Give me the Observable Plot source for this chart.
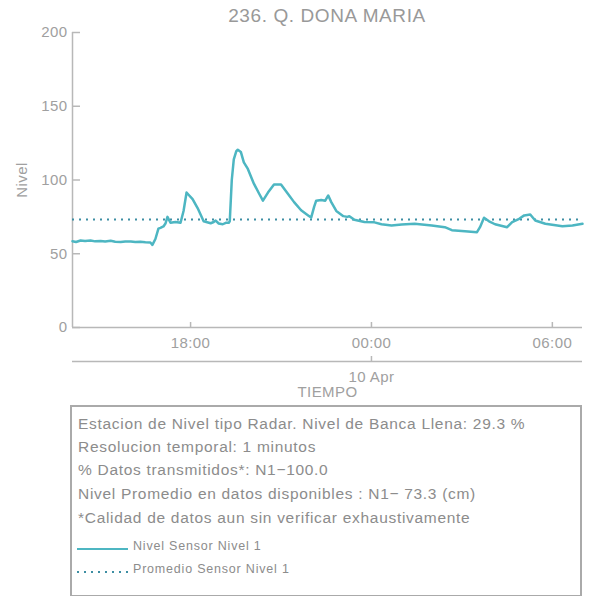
<!DOCTYPE html>
<html><head><meta charset="utf-8">
<script src="https://cdn.jsdelivr.net/npm/d3@7"></script>
<script src="https://cdn.jsdelivr.net/npm/@observablehq/plot@0.6"></script>
<style>
body{margin:0;background:#fff;font-family:"Liberation Sans",Arial,sans-serif;}
#wrap{position:relative;width:589px;height:596px;overflow:hidden;background:#fff;}
#title{position:absolute;left:72px;width:510px;top:5px;text-align:center;font-size:19px;letter-spacing:0.6px;line-height:22px;color:#999;}
#chart{position:absolute;left:0;top:0;}
#box{position:absolute;left:70px;top:405px;width:508px;height:188px;border:2px solid #aaa;}
.ln{position:absolute;left:6px;white-space:nowrap;font-size:15.5px;letter-spacing:0.7px;line-height:20px;color:#8c8c8c;}
.lg{position:absolute;left:61px;white-space:nowrap;font-size:12.5px;letter-spacing:0.8px;line-height:16px;color:#8c8c8c;}
.sw{position:absolute;left:5px;width:51px;height:2px;}
</style>
</head><body>
<div id="wrap">
  <div id="chart"></div>
  <div id="title"></div>
  <div id="box"></div>
</div>
<script>
const titleText = "236. Q. DONA MARIA";
const yLabel = "Nivel";
const xLabel = "TIEMPO";
const dateLabel = "10 Apr";
const promedio = 73.3;
const yTicks = [0, 50, 100, 150, 200];
const xTickTimes = ["2024-04-09T18:00", "2024-04-10T00:00", "2024-04-10T06:00"];
const domainTimes = ["2024-04-09T14:05", "2024-04-10T07:00"];
const infoLines = [
  "Estacion de Nivel tipo Radar. Nivel de Banca Llena: 29.3 %",
  "Resolucion temporal: 1 minutos",
  "% Datos transmitidos*: N1\u2212100.0",
  "Nivel Promedio en datos disponibles : N1\u2212 73.3 (cm)",
  "*Calidad de datos aun sin verificar exhaustivamente"
];
const legendLabels = ["Nivel Sensor Nivel 1", "Promedio Sensor Nivel 1"];
const lineColor = "#4db6c2";
const avgColor = "#3d8ea3";

const times = [
  "2024-04-09T14:05","2024-04-09T14:12","2024-04-09T14:21","2024-04-09T14:30","2024-04-09T14:41","2024-04-09T14:50",
  "2024-04-09T15:01","2024-04-09T15:10","2024-04-09T15:21","2024-04-09T15:30","2024-04-09T15:41","2024-04-09T15:50",
  "2024-04-09T16:01","2024-04-09T16:10","2024-04-09T16:20","2024-04-09T16:30","2024-04-09T16:40","2024-04-09T16:44",
  "2024-04-09T16:50","2024-04-09T16:56","2024-04-09T17:00","2024-04-09T17:06","2024-04-09T17:10","2024-04-09T17:14",
  "2024-04-09T17:20","2024-04-09T17:30","2024-04-09T17:40","2024-04-09T17:46","2024-04-09T17:52","2024-04-09T17:56",
  "2024-04-09T18:04","2024-04-09T18:14","2024-04-09T18:26","2024-04-09T18:40","2024-04-09T18:46","2024-04-09T18:50",
  "2024-04-09T18:56","2024-04-09T19:04","2024-04-09T19:10","2024-04-09T19:16","2024-04-09T19:18","2024-04-09T19:22",
  "2024-04-09T19:26","2024-04-09T19:31","2024-04-09T19:34","2024-04-09T19:40","2024-04-09T19:46","2024-04-09T19:54",
  "2024-04-09T20:06","2024-04-09T20:16","2024-04-09T20:24","2024-04-09T20:34","2024-04-09T20:46","2024-04-09T21:00",
  "2024-04-09T21:14","2024-04-09T21:26","2024-04-09T21:40","2024-04-09T21:54","2024-04-09T22:00","2024-04-09T22:06",
  "2024-04-09T22:10","2024-04-09T22:20","2024-04-09T22:28","2024-04-09T22:34","2024-04-09T22:40","2024-04-09T22:50",
  "2024-04-09T23:04","2024-04-09T23:12","2024-04-09T23:16","2024-04-09T23:26","2024-04-09T23:46","2024-04-10T00:06",
  "2024-04-10T00:20","2024-04-10T00:40","2024-04-10T01:00","2024-04-10T01:26","2024-04-10T02:00","2024-04-10T02:26",
  "2024-04-10T02:40","2024-04-10T03:06","2024-04-10T03:30","2024-04-10T03:36","2024-04-10T03:44","2024-04-10T03:54",
  "2024-04-10T04:06","2024-04-10T04:30","2024-04-10T04:40","2024-04-10T04:54","2024-04-10T05:04","2024-04-10T05:16",
  "2024-04-10T05:26","2024-04-10T05:46","2024-04-10T06:20","2024-04-10T06:40","2024-04-10T07:00"
];
const nivel = [
  58.5,58.0,59.0,58.6,59.0,58.4,
  58.7,58.3,58.8,58.2,58.0,58.3,
  58.3,57.9,58.1,57.8,57.6,56.0,
  60.0,67.0,67.5,68.5,70.5,75.0,
  71.0,71.5,71.0,79.0,91.5,90.0,
  87.0,81.0,72.0,70.7,71.5,72.5,
  70.5,70.0,71.0,71.0,72.0,100.0,
  114.0,119.5,120.5,119.0,112.0,107.5,
  97.5,91.0,86.0,91.5,97.0,97.0,
  90.5,85.0,79.5,76.0,74.5,82.0,
  86.0,86.5,86.0,89.5,85.0,79.0,
  75.5,75.0,75.5,73.0,71.5,71.3,
  70.0,69.2,69.8,70.3,69.2,68.0,
  66.0,65.3,64.6,68.0,74.4,72.0,
  70.0,68.0,71.4,73.7,76.0,76.6,
  72.5,70.3,68.7,69.2,70.3
];

const parse = s => new Date(s + ":00Z");
const data = times.map((t, i) => ({t: parse(t), v: nivel[i]}));
const xTicks = xTickTimes.map(parse);
const domain = domainTimes.map(parse);
const midnight = xTicks[1];
const axisColor = "#b8b8b8";
const textColor = "#a0a0a0";

const W = 589, H = 400, mt = 32, mb = 73, ml = 72, mr = 7;
const plotW = W - ml - mr, plotH = H - mt - mb;

const chart = Plot.plot({
  width: W, height: H,
  marginTop: mt, marginBottom: mb, marginLeft: ml, marginRight: mr,
  style: {fontFamily: "Liberation Sans, Arial, sans-serif", fontSize: "15px", color: textColor, background: "transparent", letterSpacing: "0.4px"},
  x: {type: "utc", domain},
  y: {domain: [0, 200]},
  marks: [
    Plot.ruleX([domain[0]], {stroke: axisColor, strokeWidth: 1.5}),
    Plot.ruleY([0], {stroke: axisColor, strokeWidth: 1.5}),
    Plot.ruleY([0], {stroke: axisColor, strokeWidth: 1.5, dy: 34}),
    Plot.tickY(yTicks, {stroke: axisColor, strokeWidth: 1.5, insetRight: plotW - 8}),
    Plot.tickX(xTicks, {stroke: axisColor, strokeWidth: 1.5, insetTop: plotH - 5}),
    Plot.tickX([midnight], {stroke: axisColor, strokeWidth: 1.5, insetTop: plotH - 5, dy: 34}),
    Plot.axisY({ticks: yTicks, tickSize: 0, tickPadding: 5, label: null}),
    Plot.axisX({ticks: xTicks, tickSize: 0, tickPadding: 10, tickFormat: d3.utcFormat("%H:%M"), label: null}),
    Plot.text([midnight], {x: d => d, frameAnchor: "bottom", lineAnchor: "middle", dy: 50, text: () => dateLabel, fill: textColor}),
    Plot.text([xLabel], {frameAnchor: "bottom", lineAnchor: "middle", textAnchor: "middle", dy: 65, fill: textColor}),
    Plot.text([yLabel], {frameAnchor: "left", textAnchor: "middle", lineAnchor: "middle", dx: -50, rotate: -90, fill: textColor}),
    Plot.ruleY([promedio], {stroke: avgColor, strokeWidth: 2, strokeDasharray: "2,5"}),
    Plot.line(data, {x: "t", y: "v", stroke: lineColor, strokeWidth: 2.5, strokeLinejoin: "round"})
  ]
});
document.getElementById("chart").appendChild(chart);
document.getElementById("title").textContent = titleText;

const box = document.getElementById("box");
const centers = [17, 40, 63, 87, 111];
infoLines.forEach((s, i) => {
  const d = document.createElement("div");
  d.className = "ln";
  d.style.top = (centers[i] - 10) + "px";
  d.textContent = s;
  box.appendChild(d);
});
const lgCenters = [139, 162];
legendLabels.forEach((s, i) => {
  const sw = document.createElement("div");
  sw.className = "sw";
  sw.style.top = (lgCenters[i] + 2) + "px";
  sw.style.background = i === 0 ? lineColor
    : `repeating-linear-gradient(to right, ${avgColor} 0 2px, transparent 2px 7px)`;
  box.appendChild(sw);
  const d = document.createElement("div");
  d.className = "lg";
  d.style.top = (lgCenters[i] - 8) + "px";
  d.textContent = s;
  box.appendChild(d);
});
</script>
</body></html>
